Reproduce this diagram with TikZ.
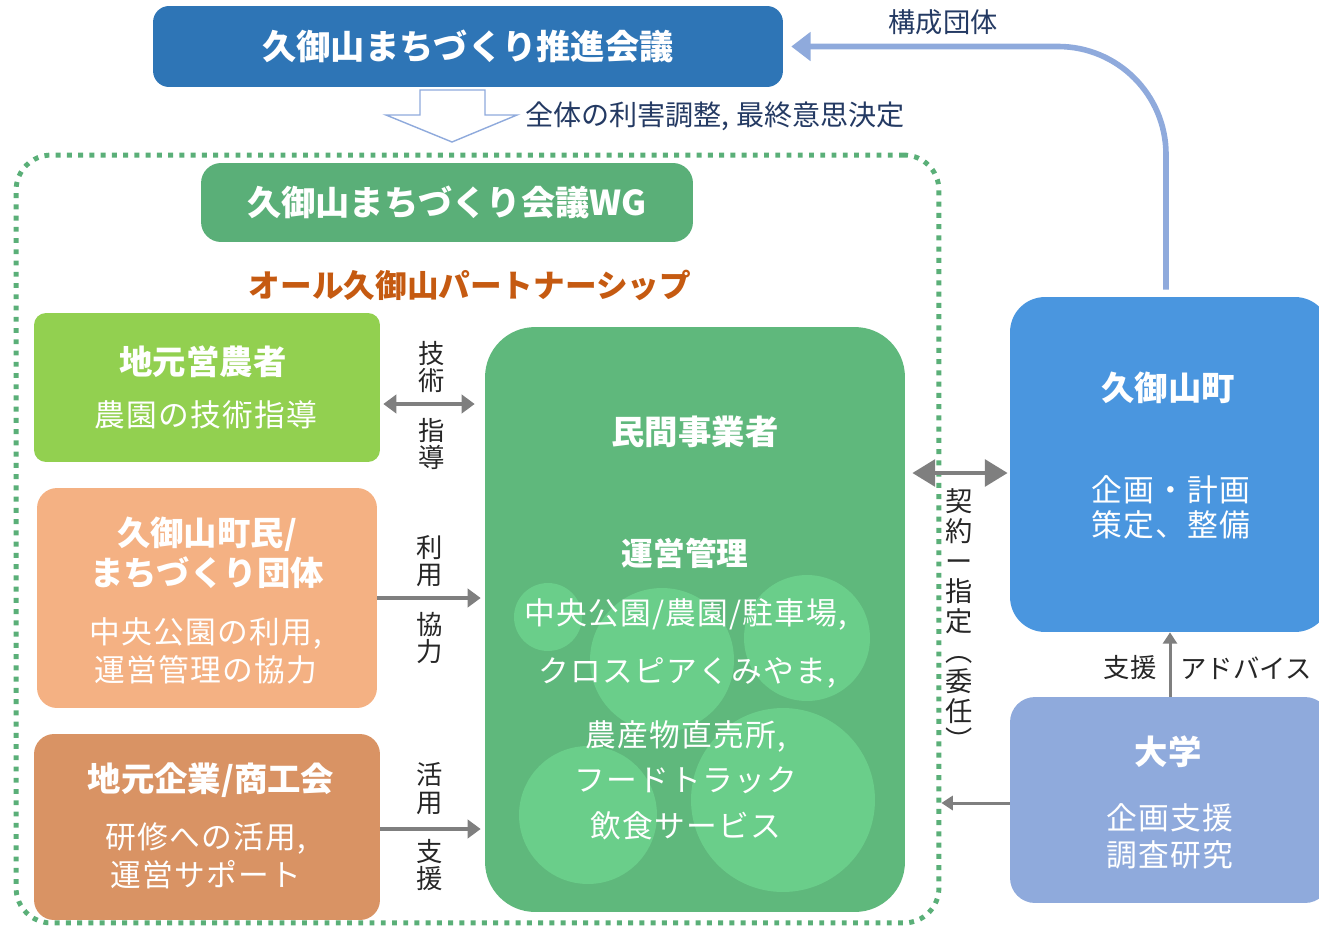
\documentclass[tikz,border=0pt]{standalone}
\usepackage{fontspec}
\setmainfont{Noto Sans CJK JP}
\usepackage{xcolor}
\usepackage{tikz}
\usetikzlibrary{arrows.meta}
\usetikzlibrary{positioning}
\definecolor{suishinblue}{HTML}{2E75B6}
\definecolor{wggreen}{HTML}{5AAF78}
\definecolor{farmgreen}{HTML}{92D050}
\definecolor{citizenpeach}{HTML}{F4B183}
\definecolor{companybrown}{HTML}{D99364}
\definecolor{minkangreen}{HTML}{5FB87C}
\definecolor{bubblegreen}{HTML}{6ACE8A}
\definecolor{townblue}{HTML}{4A96DF}
\definecolor{univblue}{HTML}{8FAADC}
\definecolor{linkblue}{HTML}{8FAADC}
\definecolor{arrowgray}{HTML}{7F7F7F}
\definecolor{navytext}{HTML}{243A63}
\definecolor{partnerorange}{HTML}{C55A11}
\tikzset{box/.style={rounded corners=#1, inner sep=0pt}}
\tikzset{headtext/.style={text=white, font=\bfseries\fontsize{19}{22.7}\selectfont, align=center}}
\tikzset{subtext/.style={text=white, font=\fontsize{17.5}{#1}\selectfont\addfontfeature{LetterSpace=4}, align=center}, subtext/.default=21.5}
\tikzset{lab/.style={text=black!85, font=\fontsize{15}{15.5}\selectfont, align=center}}
\tikzset{link/.style={draw=arrowgray, line width=2.2pt, -{Triangle[length=7.5pt,width=10.5pt]}}}
\tikzset{dlink/.style={link, {Triangle[length=7.5pt,width=10.5pt]}-{Triangle[length=7.5pt,width=10.5pt]}}}

\begin{document}
\begin{tikzpicture}[x=0.02cm, y=-0.02cm]
\useasboundingbox (0,0) rectangle (1319,927);
% dotted WG area
\node (wgarea) [draw=wggreen, line width=2.8pt, dash pattern=on 2.8pt off 3.6pt, rounded corners=0.7cm, minimum width=18.46cm, minimum height=15.36cm] at (477.5,539) {};
% top council
\node (suishin) [box=0.32cm, fill=suishinblue, minimum width=12.6cm, minimum height=1.62cm, headtext, font=\bfseries\fontsize{19.5}{23}\selectfont] at (468,46.5) {久御山まちづくり推進会議};
\draw[linkblue, line width=0.8pt, fill=white] (420,90) -- (485,90) -- (485,115) -- (517,115) -- (452,142) -- (386,115) -- (420,115) -- cycle;
\node (l-decide) [text=navytext, font=\fontsize{16}{18}\selectfont, anchor=west] at (519,116) {全体の利害調整, 最終意思決定};
\node (wg) [box=0.4cm, fill=wggreen, minimum width=9.84cm, minimum height=1.58cm, headtext, font=\bfseries\fontsize{19.5}{23}\selectfont] at (447,202.5) {久御山まちづくり会議WG};
\node (partner) [text=partnerorange, font=\bfseries\fontsize{18}{22}\selectfont] at (470,285) {オール久御山パートナーシップ};

% left members
\node (farmer) [box=0.24cm, fill=farmgreen, minimum width=6.92cm, minimum height=2.98cm] at (207,387.5) {};
\node (farmer-t) [headtext] at (203,362) {地元営農者};
\node (farmer-s) [subtext] at (206,415) {農園の技術指導};
\node (citizen) [box=0.4cm, fill=citizenpeach, minimum width=6.8cm, minimum height=4.4cm] at (207,598) {};
\node (citizen-t) [headtext] at (207,553) {久御山町民/\\まちづくり団体};
\node (citizen-s) [subtext] at (206,651) {中央公園の利用,\\運営管理の協力};
\node (company) [box=0.4cm, fill=companybrown, minimum width=6.92cm, minimum height=3.72cm] at (207,827) {};
\node (company-t) [headtext] at (211,780) {地元企業/商工会};
\node (company-s) [subtext] at (206,856) {研修への活用,\\運営サポート};

% private operator
\node (minkan) [box=1cm, fill=minkangreen, minimum width=8.4cm, minimum height=11.7cm] at (695,619.5) {};
\foreach \cx/\cy/\r in {548/617/0.68, 662/660/1.44, 807/638/1.26, 588/815/1.38, 783/800/1.84}
  \fill[bubblegreen] (\cx,\cy) circle[radius=\r cm];
\node (minkan-t) [headtext] at (695,432) {民間事業者};
\node (minkan-op) [headtext, font=\bfseries\fontsize{18}{22}\selectfont] at (685,553) {運営管理};
\node (minkan-a) [subtext] at (686,614) {中央公園/農園/駐車場,};
\node (minkan-b) [subtext] at (687,673) {クロスピアくみやま,};
\node (minkan-c) [subtext=26] at (686,780) {農産物直売所,\\フードトラック\\飲食サービス};

% town and university
\node (town) [box=0.7cm, fill=townblue, minimum width=6.4cm, minimum height=6.7cm] at (1170,464.5) {};
\node (town-t) [headtext] at (1168,388) {久御山町};
\node (town-s) [subtext=20] at (1171,507.5) {企画・計画\\策定、整備};
\node (univ) [box=0.5cm, fill=univblue, minimum width=6.4cm, minimum height=4.12cm] at (1170,800) {};
\node (univ-t) [headtext] at (1168,752) {大学};
\node (univ-s) [subtext=21] at (1170,836.5) {企画支援\\調査研究};

% links
\draw[dlink, shorten <=0.06cm, shorten >=0.2cm] ([yshift=-0.33cm]farmer.east) -- ([yshift=-0.33cm]farmer.east -| minkan.west);
\draw[link, shorten >=0.08cm] (citizen.east) -- (citizen.east -| minkan.west);
\draw[link, shorten >=0.08cm] ([yshift=-0.04cm]company.east) -- ([yshift=-0.04cm]company.east -| minkan.west);
\node (l-gijutsu) [lab] at (432,367) {技\\術};
\node (l-shido) [lab] at (432,444) {指\\導};
\node (l-riyo) [lab] at (430,561) {利\\用};
\node (l-kyoryoku) [lab] at (430,638) {協\\力};
\node (l-katsuyo) [lab] at (430,788.5) {活\\用};
\node (l-shien) [lab] at (430,865) {支\\援};
\draw[dlink, line width=2.8pt, {Triangle[length=13pt,width=15pt]}-{Triangle[length=13pt,width=15pt]}, shorten <=0.14cm, shorten >=0.04cm] ([yshift=-0.17cm]minkan.east |- town.west) -- ([yshift=-0.17cm]town.west);
\node (l-keiyaku) [lab, font=\fontsize{15.5}{17}\selectfont] at (959,620) {契\\約\\ー\\指\\定\\︵\\委\\任\\︶};
\draw[link, line width=1.7pt, -{Triangle[length=6.5pt,width=8pt]}] (univ.north) -- (town.south);
\node (l-support) [lab] at (1130,668) {支援};
\node (l-advice) [lab] at (1246,668) {アドバイス};
\draw[link, line width=1.7pt, -{Triangle[length=6.5pt,width=8pt]}] ([yshift=-0.06cm]univ.west) -- ([yshift=-0.06cm]univ.west -| wgarea.east);
\draw[linkblue, line width=3.2pt, rounded corners=2.16cm, -{Triangle[length=11pt,width=16pt]}, shorten <=0.14cm, shorten >=0.16cm] ([xshift=-0.08cm]town.north) |- (suishin.east);
\node (l-member) [text=navytext, font=\fontsize{15.5}{18}\selectfont] at (943,22) {構成団体};
\end{tikzpicture}
\end{document}
